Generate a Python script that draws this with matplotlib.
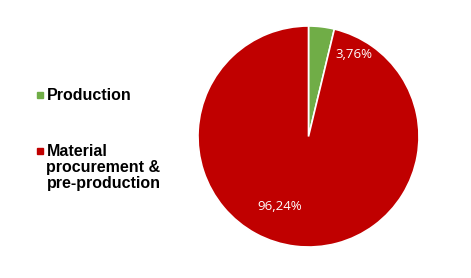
import numpy as np
import matplotlib.pyplot as plt
from matplotlib.patches import Rectangle

labels = ["Production", "Material\nprocurement &\npre-production"]
shares = [3.76, 96.24]
pct_text = ["3,76%", "96,24%"]
colors = ["#70AD47", "#C00000"]

W, H = 471, 278
fig = plt.figure(figsize=(W / 100, H / 100), dpi=100)

# pie area in pixels: left 198, top 26, size 221
ax = fig.add_axes([198 / W, (H - 247) / H, 221 / W, 221 / H])
wedges, _ = ax.pie(shares, colors=colors, startangle=90, counterclock=False,
                   wedgeprops=dict(edgecolor="white", linewidth=1.2))
ax.set_xlim(-1.0, 1.0)
ax.set_ylim(-1.0, 1.0)
ax.set_aspect("equal")
ax.axis("off")

# percent labels (angle in degrees, radius fraction)
label_pos = [(60.8, 0.845), (247.7, 0.68)]
for txt, (ang, r) in zip(pct_text, label_pos):
    a = np.deg2rad(ang)
    ax.text(r * np.cos(a), r * np.sin(a), txt, color="white",
            ha="center", va="center", fontsize=9.5, family="Open Sans")

# legend on the left
leg_y = [94.5, 151]
for lab, col, y in zip(labels, colors, leg_y):
    fig.patches.append(Rectangle((36.5 / W, 1 - (y + 3) / H), 6 / W, 6 / H,
                                 transform=fig.transFigure, color=col))
    fig.text(46.5 / W, 1 - (y - 6.5) / H, lab, ha="left", va="top",
             fontsize=11.5, fontweight="bold", family="Liberation Sans",
             linespacing=1.06)

fig.savefig("out.png", dpi=100)
